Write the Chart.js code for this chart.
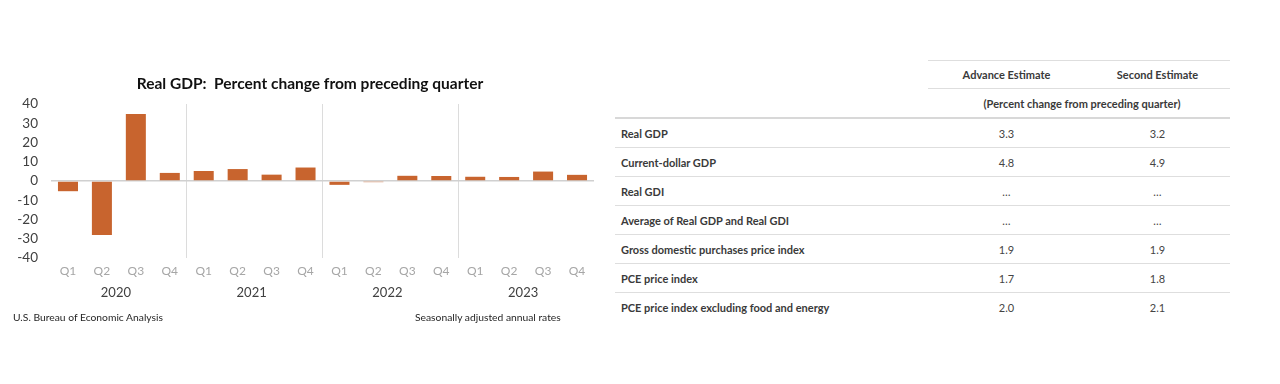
<!DOCTYPE html>
<html>
<head>
<meta charset="utf-8">
<script src="https://cdn.jsdelivr.net/npm/chart.js@4/dist/chart.umd.min.js"></script>
<style>
  html, body { margin: 0; padding: 0; background: #fff; }
  body { width: 1280px; height: 384px; position: relative; overflow: hidden; font-family: Lato, "Open Sans", sans-serif; }
  #chartWrap { position: absolute; left: 0; top: 0; width: 610px; height: 384px; }
  #title { position: absolute; left: 110px; width: 400px; top: 74px; text-align: center; font-family: Lato, sans-serif; font-size: 15.5px; font-weight: bold; color: #111; white-space: pre; }
  .foot { position: absolute; top: 311px; font-family: Lato, sans-serif; font-size: 10.3px; color: #262626; }
  #tbl { position: absolute; left: 615px; top: 60px; width: 615px; border-collapse: collapse; font-family: Lato, sans-serif; font-size: 11px; color: #333; }
  #tbl td { padding: 0; height: 28px; border-bottom: 1px solid #dedede; }
  #tbl td.lab { padding-left: 6px; font-weight: bold; color: #3a3a3a; }
  #tbl td.val { text-align: center; width: 145px; color: #444; padding-left: 6px; }
  #tbl tr.h1 td { height: 27px; }
  #tbl tr.h1 td.val, #tbl tr.h2 td.val { font-weight: bold; color: #3a3a3a; }
  #tbl tr.h1 td.blank, #tbl tr.h2 td.blank { border-bottom: none; }
  #tbl tr.h2 td { height: 28px; border-bottom: 2px solid #d8d8d8; }
  #tbl tr.h2 td.blank { border-bottom: 2px solid #d8d8d8; }
  #tbl tr.h0 td { height: 0; border-bottom: 1px solid #dedede; }
  #tbl tr.h0 td.blank { border-bottom: none; }
  #tbl tr.last td { border-bottom: none; }
</style>
</head>
<body>
<div id="chartWrap"><canvas id="c" width="610" height="384"></canvas></div>
<div id="title">Real GDP:  Percent change from preceding quarter</div>
<div class="foot" style="left:13px;">U.S. Bureau of Economic Analysis</div>
<div class="foot" style="left:415px;">Seasonally adjusted annual rates</div>
<table id="tbl"><tbody id="tb"></tbody></table>
<script>
// ---- Data ----
const quarters = ['Q1','Q2','Q3','Q4','Q1','Q2','Q3','Q4','Q1','Q2','Q3','Q4','Q1','Q2','Q3','Q4'];
const years = ['2020','2021','2022','2023'];
const gdpChange = [-5.3, -28.0, 34.8, 4.2, 5.2, 6.2, 3.3, 7.0, -2.0, -0.6, 2.7, 2.6, 2.2, 2.1, 4.9, 3.2];
const yTicks = [40, 30, 20, 10, 0, -10, -20, -30, -40];

const tableColumns = ['Advance Estimate', 'Second Estimate'];
const tableUnit = '(Percent change from preceding quarter)';
const tableRows = ['Real GDP', 'Current-dollar GDP', 'Real GDI', 'Average of Real GDP and Real GDI',
  'Gross domestic purchases price index', 'PCE price index', 'PCE price index excluding food and energy'];
const advanceEstimate = ['3.3', '4.8', '…', '…', '1.9', '1.7', '2.0'];
const secondEstimate = ['3.2', '4.9', '…', '…', '1.9', '1.8', '2.1'];

// ---- Table ----
const tb = document.getElementById('tb');
let html = '<tr class="h0"><td class="blank"></td><td class="val"></td><td class="val"></td></tr>';
html += '<tr class="h1"><td class="blank"></td><td class="val">' + tableColumns[0] + '</td><td class="val">' + tableColumns[1] + '</td></tr>';
html += '<tr class="h2"><td class="blank"></td><td class="val" colspan="2" style="font-weight:bold">' + tableUnit + '</td></tr>';
tableRows.forEach((r, i) => {
  html += '<tr' + (i === tableRows.length - 1 ? ' class="last"' : '') + '><td class="lab">' + r + '</td><td class="val">' + advanceEstimate[i] + '</td><td class="val">' + secondEstimate[i] + '</td></tr>';
});
tb.innerHTML = html;

// ---- Chart ----
const textColor = '#404040';
new Chart(document.getElementById('c'), {
  type: 'bar',
  data: {
    labels: quarters,
    datasets: [{
      data: gdpChange,
      backgroundColor: '#C8642E',
      borderWidth: 0,
      categoryPercentage: 1.0,
      barPercentage: 0.59
    }]
  },
  options: {
    responsive: false,
    animation: false,
    layout: { padding: { left: 0, right: 16, top: 104, bottom: 82 } },
    plugins: {
      legend: { display: false },
      tooltip: { enabled: false },
      title: { display: false }
    },
    scales: {
      x: {
        type: 'category',
        position: 'bottom',
        offset: true,
        border: { display: false },
        grid: {
          offset: true,
          drawTicks: false,
          color: ctx => (ctx.index % 4 === 0 && ctx.index > 0) ? '#dcdcdc' : 'rgba(0,0,0,0)',
          lineWidth: 1
        },
        ticks: { color: '#A6A6A6', font: { family: 'Lato, sans-serif', size: 12 }, padding: 6, maxRotation: 0, autoSkip: false }
      },
      x2: {
        type: 'category',
        labels: years,
        position: 'bottom',
        offset: true,
        border: { display: false },
        grid: { display: false, drawTicks: false },
        ticks: { color: textColor, font: { family: 'Lato, sans-serif', size: 13 }, padding: 1, labelOffset: -3, maxRotation: 0 }
      },
      y: {
        min: -40, max: 40,
        border: { display: false },
        afterFit: s => { s.width = 51; },
        afterBuildTicks: s => { s.ticks = yTicks.map(v => ({ value: v })); },
        grid: {
          drawTicks: false,
          color: ctx => (ctx.tick && ctx.tick.value === 0) ? '#d0d0d0' : 'rgba(0,0,0,0)',
          lineWidth: ctx => (ctx.tick && ctx.tick.value === 0) ? 1.5 : 0
        },
        ticks: { color: textColor, font: { family: 'Lato, sans-serif', size: 13.5 }, padding: 13, autoSkip: false }
      }
    }
  }
});
</script>
</body>
</html>
